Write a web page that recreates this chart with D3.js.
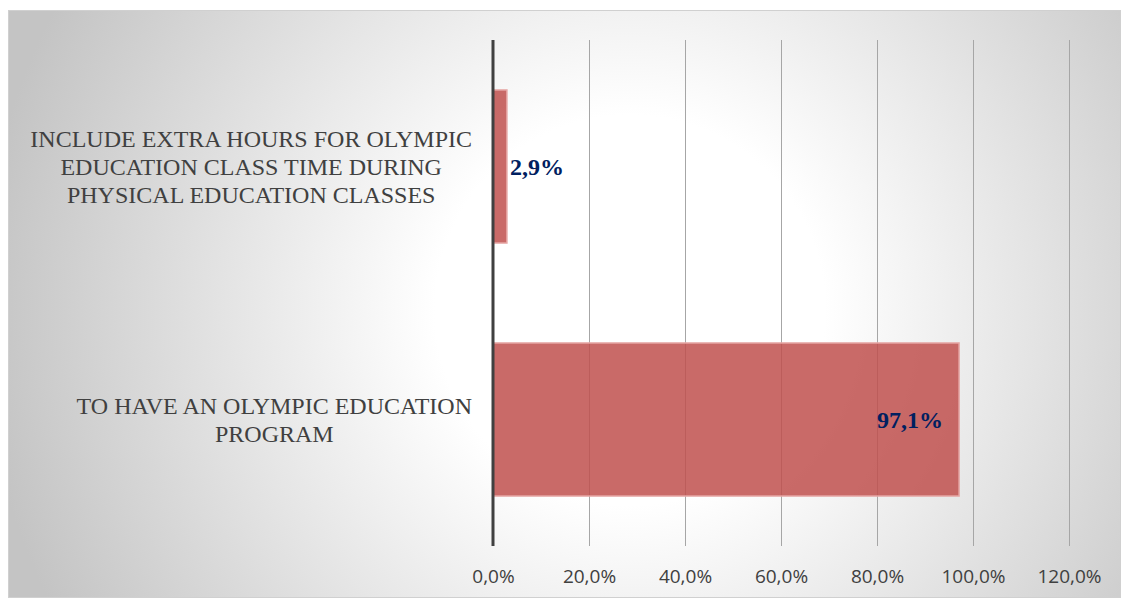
<!DOCTYPE html>
<html>
<head>
<meta charset="utf-8">
<script src="https://cdn.jsdelivr.net/npm/d3@7"></script>
<style>
  body { margin: 0; background: #ffffff; }
</style>
</head>
<body>
<div id="chart"></div>
<script>
// data
var categories = [
  ["INCLUDE EXTRA HOURS FOR OLYMPIC", "EDUCATION CLASS TIME DURING", "PHYSICAL EDUCATION CLASSES"],
  ["TO HAVE AN OLYMPIC EDUCATION", "PROGRAM"]
];
var values = [2.9, 97.1];
var valueLabels = ["2,9%", "97,1%"];
var tickValues = [0, 20, 40, 60, 80, 100, 120];

var W = 1123, H = 601;
var margin = {top: 40, right: 54, bottom: 55, left: 493};
var width = W - margin.left - margin.right,
    height = H - margin.top - margin.bottom;

var svg = d3.select("#chart")
  .append("svg")
    .attr("width", W)
    .attr("height", H);

// background gradient
var defs = svg.append("defs");
var grad = defs.append("radialGradient")
  .attr("id", "bg")
  .attr("gradientUnits", "userSpaceOnUse")
  .attr("cx", 630).attr("cy", 310).attr("r", 650);
grad.append("stop").attr("offset", "0").attr("stop-color", "#ffffff");
grad.append("stop").attr("offset", "0.3").attr("stop-color", "#ffffff");
grad.append("stop").attr("offset", "1").attr("stop-color", "#c4c4c4");

svg.append("rect")
  .attr("x", 8.5).attr("y", 10.5)
  .attr("width", 1112).attr("height", 587)
  .attr("fill", "url(#bg)")
  .attr("stroke", "#d0d0d0")
  .attr("stroke-width", 1);

var g = svg.append("g")
  .attr("transform", "translate(" + margin.left + "," + margin.top + ")");

// scales
var x = d3.scaleLinear()
  .domain([0, 120])
  .range([0, width]);

var y = d3.scaleBand()
  .domain(d3.range(categories.length))
  .range([0, height])
  .paddingInner(0.395)
  .paddingOuter(0.1975);

// gridlines
g.selectAll(".grid")
  .data(tickValues.slice(1))
  .enter()
  .append("line")
    .attr("x1", function(d) { return Math.round(x(d)) + 0.5; })
    .attr("x2", function(d) { return Math.round(x(d)) + 0.5; })
    .attr("y1", 0)
    .attr("y2", height)
    .attr("stroke", "#a6a6a6")
    .attr("stroke-width", 1);

// x axis labels
var xAxis = g.append("g")
  .attr("transform", "translate(0," + height + ")")
  .call(d3.axisBottom(x)
    .tickValues(tickValues)
    .tickSize(0)
    .tickPadding(24)
    .tickFormat(function(d) { return d3.format(".1f")(d).replace(".", ",") + "%"; }));
xAxis.select(".domain").remove();
xAxis.selectAll("text")
  .attr("fill", "#404040")
  .style("font-family", "'Open Sans', 'Liberation Sans', sans-serif")
  .style("font-size", "19px");

// bars
g.selectAll(".bar")
  .data(values)
  .enter()
  .append("rect")
    .attr("x", x(0))
    .attr("y", function(d, i) { return y(i); })
    .attr("width", function(d) { return x(d) - x(0); })
    .attr("height", y.bandwidth())
    .attr("fill", "#c0504d")
    .attr("fill-opacity", 0.85)
    .attr("stroke", "#e6a8a6")
    .attr("stroke-width", 1.5);

// y axis line
g.append("line")
  .attr("x1", 0).attr("x2", 0)
  .attr("y1", 0).attr("y2", height)
  .attr("stroke", "#404040")
  .attr("stroke-width", 3);

// value labels
g.selectAll(".vlabel")
  .data(values)
  .enter()
  .append("text")
    .attr("x", function(d) { return d > 50 ? x(d) - 16 : x(d) + 3; })
    .attr("y", function(d, i) { return y(i) + y.bandwidth() / 2; })
    .attr("dy", "0.35em")
    .attr("text-anchor", function(d) { return d > 50 ? "end" : "start"; })
    .attr("fill", "#002060")
    .style("font-family", "'Liberation Serif', serif")
    .style("font-weight", "bold")
    .style("font-size", "24px")
    .text(function(d, i) { return valueLabels[i]; });

// category labels: each block right-aligned near the axis, lines centred in it
var lineH = 28;
var labelRight = margin.left - 21;
var cat = svg.selectAll(".cat")
  .data(categories)
  .enter()
  .append("text")
    .attr("text-anchor", "middle")
    .attr("fill", "#404040")
    .style("font-family", "'Liberation Serif', serif")
    .style("font-size", "24px");
cat.each(function(lines, i) {
  var cy = margin.top + y(i) + y.bandwidth() / 2;
  var y0 = cy - (lines.length - 1) * lineH / 2;
  var spans = d3.select(this).selectAll("tspan")
    .data(lines)
    .enter()
    .append("tspan")
      .attr("y", function(d, j) { return y0 + j * lineH; })
      .attr("dy", "0.35em")
      .text(function(d) { return d; });
  var maxW = d3.max(spans.nodes(), function(n) { return n.getComputedTextLength(); });
  spans.attr("x", labelRight - maxW / 2);
});
</script>
</body>
</html>
